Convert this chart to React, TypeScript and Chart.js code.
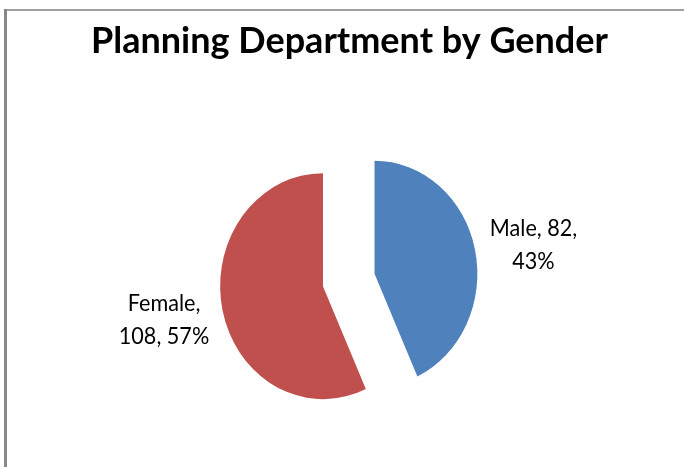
import React, { useEffect, useRef } from 'react';
import { Chart, registerables } from 'chart.js';

Chart.register(...registerables);

// ---- data ----
const CATEGORIES = ['Male', 'Female'];
const VALUES = [82, 108];
const COLORS = ['#4F81BD', '#C0504D'];
const TITLE = 'Planning Department by Gender';

// ---- layout / style ----
const W = 684;
const H = 467;
const PIE_CENTER = { x: 348.75, y: 280 };
const PIE_RADIUS = 113;
const PIE_SX = 0.91; // horizontal squeeze of the pie (reference is elliptical)
const EXPLODE = 29;
const LABEL_ANCHORS = [
  { x: 533.5, y: 252.5 },
  { x: 164, y: 327.5 },
];
const LABEL_LH = 33;
const LABEL_FONT = '24px Lato';
const LABEL_SX = 0.9;
const LABEL_WRAP = 100;
const TITLE_FONT = 'bold 36px Lato';
const TITLE_POS = { x: 349.5, y: 52.5 };

const explodePlugin = {
  id: 'explodeDraw',
  beforeDatasetDraw(chart: any, args: any) {
    const ctx = chart.ctx;
    const meta = args.meta;
    meta.data.forEach((arc: any) => {
      const mid = (arc.startAngle + arc.endAngle) / 2;
      ctx.save();
      ctx.translate(arc.x, arc.y);
      ctx.scale(PIE_SX, 1);
      ctx.translate(-arc.x, -arc.y);
      ctx.translate(Math.cos(mid) * EXPLODE, Math.sin(mid) * EXPLODE);
      arc.draw(ctx, chart.chartArea);
      ctx.restore();
    });
    return false;
  },
};

const framePlugin = {
  id: 'frame',
  beforeDraw(chart: any) {
    const ctx = chart.ctx;
    ctx.save();
    ctx.fillStyle = '#ffffff';
    ctx.fillRect(0, 0, W, H);
    ctx.fillStyle = '#a0a0a0';
    ctx.fillRect(4, 9, W, 2);
    ctx.fillStyle = '#888888';
    ctx.fillRect(4, 9, 3, H);
    ctx.restore();
  },
};

function wrap(ctx: CanvasRenderingContext2D, text: string, maxW: number, sx: number) {
  const words = text.split(' ');
  const lines: string[] = [];
  let cur = '';
  words.forEach((w) => {
    const test = cur ? cur + ' ' + w : w;
    if (cur && ctx.measureText(test).width * sx > maxW) {
      lines.push(cur);
      cur = w;
    } else {
      cur = test;
    }
  });
  if (cur) lines.push(cur);
  return lines;
}

const textPlugin = {
  id: 'texts',
  afterDraw(chart: any) {
    const ctx = chart.ctx as CanvasRenderingContext2D;
    const total = VALUES.reduce((a, b) => a + b, 0);
    ctx.save();
    ctx.fillStyle = '#000000';
    ctx.textAlign = 'center';
    ctx.textBaseline = 'alphabetic';
    ctx.font = TITLE_FONT;
    ctx.fillText(TITLE, TITLE_POS.x, TITLE_POS.y);

    ctx.font = LABEL_FONT;
    CATEGORIES.forEach((cat, i) => {
      const pct = Math.round((VALUES[i] / total) * 100);
      const text = `${cat}, ${VALUES[i]}, ${pct}%`;
      const lines = wrap(ctx, text, LABEL_WRAP, LABEL_SX);
      const a = LABEL_ANCHORS[i];
      const y0 = a.y - ((lines.length - 1) * LABEL_LH) / 2;
      lines.forEach((ln, j) => {
        ctx.save();
        ctx.translate(a.x, y0 + j * LABEL_LH);
        ctx.scale(LABEL_SX, 1);
        ctx.fillText(ln, 0, 0);
        ctx.restore();
      });
    });
    ctx.restore();
  },
};

export default function App() {
  const ref = useRef<HTMLCanvasElement | null>(null);
  useEffect(() => {
    if (!ref.current) return;
    const padRight = 0;
    const padLeft = 2 * PIE_CENTER.x - W + padRight;
    const padBottom = 0;
    const padTop = 2 * PIE_CENTER.y - H + padBottom;
    const chart = new Chart(ref.current, {
      type: 'pie',
      data: {
        labels: CATEGORIES,
        datasets: [
          {
            data: VALUES,
            backgroundColor: COLORS,
            borderWidth: 0,
          },
        ],
      },
      options: {
        animation: false,
        responsive: false,
        devicePixelRatio: 1,
        radius: PIE_RADIUS,
        layout: { padding: { left: padLeft, right: padRight, top: padTop, bottom: padBottom } },
        plugins: {
          legend: { display: false },
          tooltip: { enabled: false },
          title: { display: false },
        },
      } as any,
      plugins: [framePlugin, explodePlugin, textPlugin],
    });
    return () => chart.destroy();
  }, []);
  return (
    <div style={{ position: 'fixed', left: 0, top: 0, width: W, height: H, overflow: 'hidden', background: '#fff' }}>
      <canvas ref={ref} width={W} height={H} style={{ display: 'block', width: W, height: H }} />
    </div>
  );
}
